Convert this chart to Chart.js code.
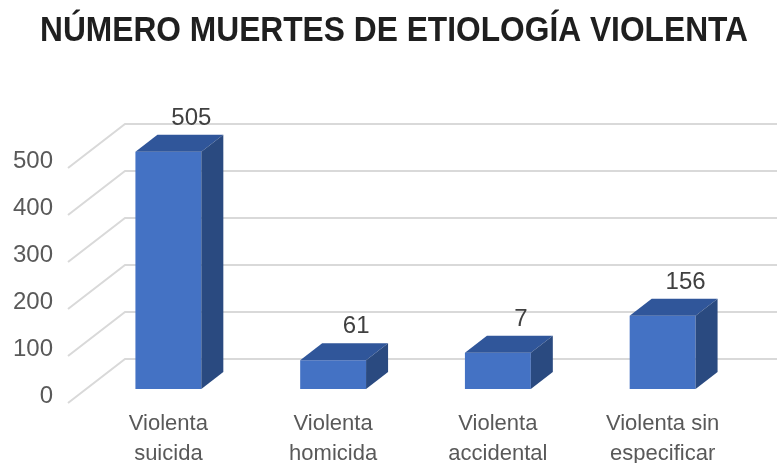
<!DOCTYPE html>
<html>
<head>
<meta charset="utf-8">
<script src="https://cdn.jsdelivr.net/npm/chart.js@4/dist/chart.umd.min.js"></script>
<style>
  html, body { margin: 0; padding: 0; background: #fff; }
  #wrap { width: 777px; height: 463px; }
</style>
</head>
<body>
<div id="wrap"><canvas id="chart"></canvas></div>
<script>
// Data
const categories = [
    ['Violenta', 'suicida'],
    ['Violenta', 'homicida'],
    ['Violenta', 'accidental'],
    ['Violenta sin', 'especificar']
];
const deaths = [505, 61, 77, 156];
const valueLabels = ['505', '61', '7', '156'];
const yTicks = [0, 100, 200, 300, 400, 500];

// 3D look (pixels)
const DEPTH_X = 22;
const DEPTH_Y = 17;

// Grid lines: front floor edge -> back wall, then the 3D faces and labels
const gridPlugin = {
    id: 'grid3d',
    afterLayout(chart) {
        // narrower title box: the title text gets squeezed to this width
        chart.titleBlock.left = 40;
        chart.titleBlock.right = 748;
    },
    beforeDatasetsDraw(chart) {
        const ctx = chart.ctx;
        const y = chart.scales.y;
        ctx.save();
        ctx.strokeStyle = '#d9d9d9';
        ctx.lineWidth = 2;
        yTicks.forEach(function(v) {
            const py = y.getPixelForValue(v);
            ctx.beginPath();
            ctx.moveTo(68, py + 14);
            ctx.lineTo(125, py - 30);
            ctx.lineTo(chart.width, py - 30);
            ctx.stroke();
        });
        ctx.restore();
    },
    afterDatasetsDraw(chart) {
        const ctx = chart.ctx;
        const meta = chart.getDatasetMeta(0);
        ctx.save();
        meta.data.forEach(function(bar, i) {
            const left = bar.x - bar.width / 2;
            const right = bar.x + bar.width / 2;
            const top = bar.y;
            const base = bar.base;

            // top face
            ctx.fillStyle = '#30569a';
            ctx.beginPath();
            ctx.moveTo(left, top);
            ctx.lineTo(left + DEPTH_X, top - DEPTH_Y);
            ctx.lineTo(right + DEPTH_X, top - DEPTH_Y);
            ctx.lineTo(right, top);
            ctx.closePath();
            ctx.fill();

            // side face
            ctx.fillStyle = '#2a4a80';
            ctx.beginPath();
            ctx.moveTo(right, top);
            ctx.lineTo(right + DEPTH_X, top - DEPTH_Y);
            ctx.lineTo(right + DEPTH_X, base - DEPTH_Y);
            ctx.lineTo(right, base);
            ctx.closePath();
            ctx.fill();

            // value label
            ctx.fillStyle = '#404040';
            ctx.font = '24px "Liberation Sans", Arial, sans-serif';
            ctx.textAlign = 'center';
            ctx.textBaseline = 'alphabetic';
            ctx.fillText(valueLabels[i], bar.x + 23, top - DEPTH_Y - 10);
        });
        ctx.restore();
    }
};

new Chart(document.getElementById('chart'), {
    type: 'bar',
    data: {
        labels: categories,
        datasets: [{
            data: deaths,
            backgroundColor: '#4472c4',
            borderWidth: 0,
            categoryPercentage: 1,
            barPercentage: 0.4,
            clip: false
        }]
    },
    options: {
        responsive: true,
        maintainAspectRatio: false,
        animation: false,
        layout: {
            padding: { left: 11, right: 0, top: 0, bottom: 0 }
        },
        plugins: {
            legend: { display: false },
            tooltip: { enabled: false },
            title: {
                display: true,
                text: 'NÚMERO MUERTES DE ETIOLOGÍA VIOLENTA',
                color: '#1f1f1f',
                font: { family: '"Liberation Sans", Arial, sans-serif', size: 35, weight: 'bold', lineHeight: 1.2 },
                padding: { top: 10, bottom: 102 }
            }
        },
        scales: {
            x: {
                grid: { display: false, drawTicks: false },
                border: { display: false },
                ticks: {
                    color: '#595959',
                    padding: 20,
                    font: { family: '"Liberation Sans", Arial, sans-serif', size: 22, lineHeight: 1.36 }
                },
                afterFit: function(scale) { scale.height = 74; }
            },
            y: {
                min: 0,
                max: 500,
                grid: { display: false, drawTicks: false },
                border: { display: false },
                ticks: {
                    stepSize: 100,
                    color: '#595959',
                    padding: 33,
                    labelOffset: 7,
                    font: { family: '"Liberation Sans", Arial, sans-serif', size: 24 }
                },
                afterFit: function(scale) { scale.width = 75; }
            },
            // empty right-hand axis, only reserves the space right of the bars
            yRight: {
                position: 'right',
                display: true,
                grid: { display: false, drawTicks: false },
                border: { display: false },
                ticks: { display: false },
                afterFit: function(scale) { scale.width = 32; }
            }
        }
    },
    plugins: [gridPlugin]
});
</script>
</body>
</html>
